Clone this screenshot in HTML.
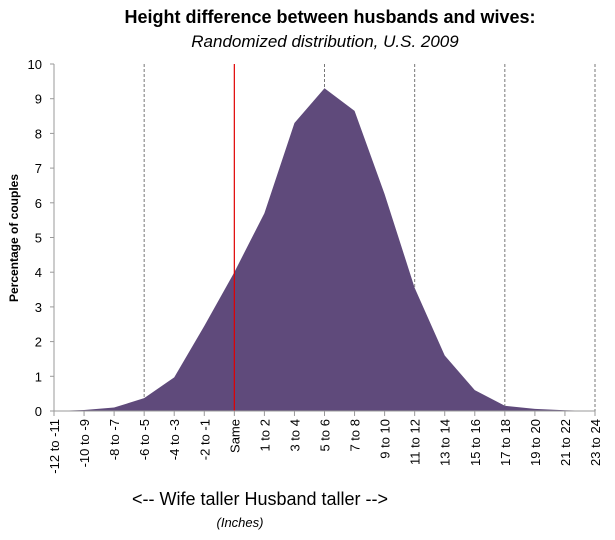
<!DOCTYPE html>
<html><head><meta charset="utf-8"><style>
body{margin:0;background:#fff;width:615px;height:535px;overflow:hidden;font-family:"Liberation Sans",sans-serif}
</style></head><body>
<svg id="chart" width="615" height="535" xmlns="http://www.w3.org/2000/svg">
<text x="330" y="23" text-anchor="middle" font-size="18" font-weight="bold">Height difference between husbands and wives:</text>
<text x="325" y="47" text-anchor="middle" font-size="17" font-style="italic">Randomized distribution, U.S. 2009</text>
<text transform="translate(18,238) rotate(-90)" text-anchor="middle" font-size="12" font-weight="bold">Percentage of couples</text>
<text x="260" y="505" text-anchor="middle" font-size="18">&lt;-- Wife taller   Husband taller --&gt;</text>
<text x="240" y="527" text-anchor="middle" font-size="13" font-style="italic">(Inches)</text>
<g id="grid"></g><g id="series"></g><g id="axes"></g>
</svg>
<script>
const categories=["-12 to -11","-10 to -9","-8 to -7","-6 to -5","-4 to -3","-2 to -1","Same","1 to 2","3 to 4","5 to 6","7 to 8","9 to 10","11 to 12","13 to 14","15 to 16","17 to 18","19 to 20","21 to 22","23 to 24"];
const values=[0,0.03,0.1,0.37,0.97,2.45,4.0,5.7,8.3,9.3,8.65,6.25,3.55,1.6,0.6,0.15,0.06,0.02,0];
const yTicks=[0,1,2,3,4,5,6,7,8,9,10];
const dashedCats=["-6 to -5","5 to 6","11 to 12","17 to 18","23 to 24"];
const NS="http://www.w3.org/2000/svg";
const x0=54,x1=595,yb=411,yt=64;
const x=i=>x0+i*(x1-x0)/(categories.length-1);
const y=v=>yb-v*(yb-yt)/10;
function mk(t,a,p){const e=document.createElementNS(NS,t);for(const k in a)e.setAttribute(k,a[k]);p.appendChild(e);return e;}
const grid=document.getElementById('grid'),ser=document.getElementById('series'),ax=document.getElementById('axes');
dashedCats.forEach(c=>{const i=categories.indexOf(c);
const l=mk('line',{x1:x(i),x2:x(i),y1:yt,y2:yb,stroke:'#777','stroke-dasharray':'3,2','stroke-width':1},grid);

});
let d='M'+x(0)+','+yb;values.forEach((v,i)=>d+=' L'+x(i)+','+y(v));d+=' L'+x(values.length-1)+','+yb+' Z';
const area=mk('path',{d:d,fill:'#5f4a7b'},ser);


const si=categories.indexOf("Same");
const red=mk('line',{x1:x(si),x2:x(si),y1:yt,y2:yb,stroke:'#e00000','stroke-width':1.2},ser);


const ya=mk('line',{x1:x0,x2:x0,y1:yt,y2:yb,stroke:'#999'},ax);


const xa=mk('line',{x1:x0,x2:x1,y1:yb,y2:yb,stroke:'#999'},ax);


yTicks.forEach(v=>{mk('line',{x1:x0-4,x2:x0,y1:y(v),y2:y(v),stroke:'#999'},ax);
const t=mk('text',{x:x0-12,y:y(v)+5,'text-anchor':'end','font-size':13},ax);t.textContent=v;

});
categories.forEach((c,i)=>{mk('line',{x1:x(i),x2:x(i),y1:yb,y2:yb+5,stroke:'#999'},ax);
const t=mk('text',{transform:'translate('+(x(i)+5)+','+(yb+8)+') rotate(-90)','text-anchor':'end','font-size':13},ax);t.textContent=c;

});
</script>
</body></html>
